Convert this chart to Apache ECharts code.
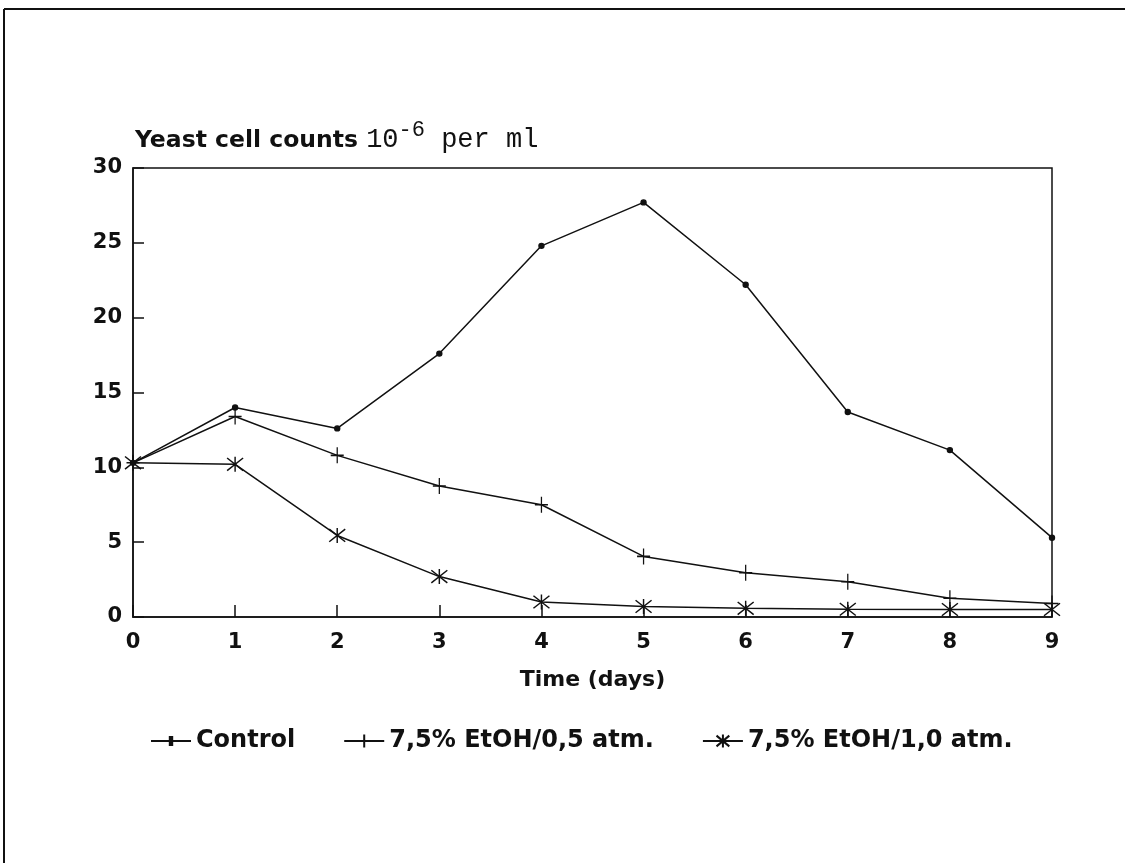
<!DOCTYPE html>
<html>
<head>
<meta charset="utf-8">
<script src="https://cdn.jsdelivr.net/npm/echarts@6/dist/echarts.min.js"></script>
<style>
  html, body { margin: 0; padding: 0; background: #fff; }
  #chart { width: 1125px; height: 863px; }
</style>
</head>
<body>
<div id="chart"></div>
<script>
// ---- data ----
var days = [0, 1, 2, 3, 4, 5, 6, 7, 8, 9];
var seriesNames = ['Control', '7,5% EtOH/0,5 atm.', '7,5% EtOH/1,0 atm.'];
var control = [10.3, 14.0, 12.6, 17.6, 24.8, 27.7, 22.2, 13.7, 11.15, 5.3];
var etoh05 = [10.3, 13.4, 10.8, 8.75, 7.5, 4.05, 2.95, 2.35, 1.25, 0.9];
var etoh10 = [10.3, 10.2, 5.45, 2.7, 1.0, 0.7, 0.58, 0.52, 0.5, 0.5];
var yTicks = { min: 0, max: 30, step: 5 };
var xTicks = { min: 0, max: 9, step: 1 };
var yTitle = { main: 'Yeast cell counts ', base: '10', exp: '-6', unit: ' per ml' };
var xTitle = 'Time (days)';

function pairs(vals) { return days.map(function (d, i) { return [d, vals[i]]; }); }

var ink = '#111';
var plusPath = 'path://M50,0 L50,100 M0,50 L100,50';
var starPath = 'path://M50,0 L50,100 M5,8 L95,92 M95,8 L5,92';
var dotLegendIcon = 'path://M0,50 L100,50 M47,40 L53,40 L53,60 L47,60 Z';

function mkSeries(name, vals, symbol, size) {
  return {
    name: name, type: 'line', data: pairs(vals),
    symbol: symbol, symbolSize: size, showSymbol: true,
    lineStyle: { color: ink, width: 1.5 },
    itemStyle: { color: ink, borderColor: ink, borderWidth: 1.4 },
    emphasis: { disabled: true },
    z: 3
  };
}

var sans = 'DejaVu Sans';
var labelFont = { fontFamily: sans, fontWeight: 'bold', fontSize: 21, color: ink };

var chart = echarts.init(document.getElementById('chart'), null, { renderer: 'canvas' });
chart.setOption({
  animation: false,
  backgroundColor: '#fff',
  grid: { left: 133, right: 73, top: 168, bottom: 246, show: true, borderColor: ink, borderWidth: 1.5, backgroundColor: 'transparent' },
  xAxis: {
    type: 'value', min: xTicks.min, max: xTicks.max, interval: xTicks.step,
    axisLine: { show: true, lineStyle: { color: ink, width: 1.5 } },
    axisTick: { show: true, inside: true, length: 12, lineStyle: { color: ink, width: 1.5 } },
    splitLine: { show: false },
    axisLabel: Object.assign({ margin: 15 }, labelFont),
    name: xTitle, nameLocation: 'middle', nameGap: 52,
    nameTextStyle: Object.assign({}, labelFont, { fontSize: 22 })
  },
  yAxis: {
    type: 'value', min: yTicks.min, max: yTicks.max, interval: yTicks.step,
    axisLine: { show: true, lineStyle: { color: ink, width: 1.5 } },
    axisTick: { show: true, inside: true, length: 11, lineStyle: { color: ink, width: 1.5 } },
    splitLine: { show: false },
    axisLabel: Object.assign({ margin: 11 }, labelFont),
    name: '{a|' + yTitle.main + '}{b|' + yTitle.base + '}{c|' + yTitle.exp + '}{b|' + yTitle.unit + '}',
    nameLocation: 'end', nameGap: 15,
    nameTextStyle: {
      align: 'left', verticalAlign: 'bottom', padding: [0, 0, 0, 2],
      rich: {
        a: { fontFamily: sans, fontWeight: 'bold', fontSize: 23.5, color: ink, verticalAlign: 'bottom', lineHeight: 34 },
        b: { fontFamily: 'Liberation Mono', fontSize: 27, color: ink, verticalAlign: 'bottom', lineHeight: 34 },
        c: { fontFamily: 'Liberation Mono', fontSize: 22, color: ink, verticalAlign: 'top', lineHeight: 34 }
      }
    }
  },
  legend: {
    data: [
      { name: seriesNames[0], icon: dotLegendIcon },
      { name: seriesNames[1] },
      { name: seriesNames[2] }
    ],
    left: 145, top: 724,
    itemWidth: 40, itemHeight: 16, itemGap: 48,
    textStyle: Object.assign({}, labelFont, { fontSize: 24 }),
    selectedMode: false
  },
  graphic: [
    { type: 'line', shape: { x1: 4, y1: 9, x2: 1125, y2: 9 }, style: { stroke: ink, lineWidth: 2 } },
    { type: 'line', shape: { x1: 4, y1: 9, x2: 4, y2: 863 }, style: { stroke: ink, lineWidth: 2 } }
  ],
  series: [
    mkSeries(seriesNames[0], control, 'circle', 5),
    mkSeries(seriesNames[1], etoh05, plusPath, [13, 16]),
    mkSeries(seriesNames[2], etoh10, starPath, [16, 15])
  ]
});
</script>
</body>
</html>
